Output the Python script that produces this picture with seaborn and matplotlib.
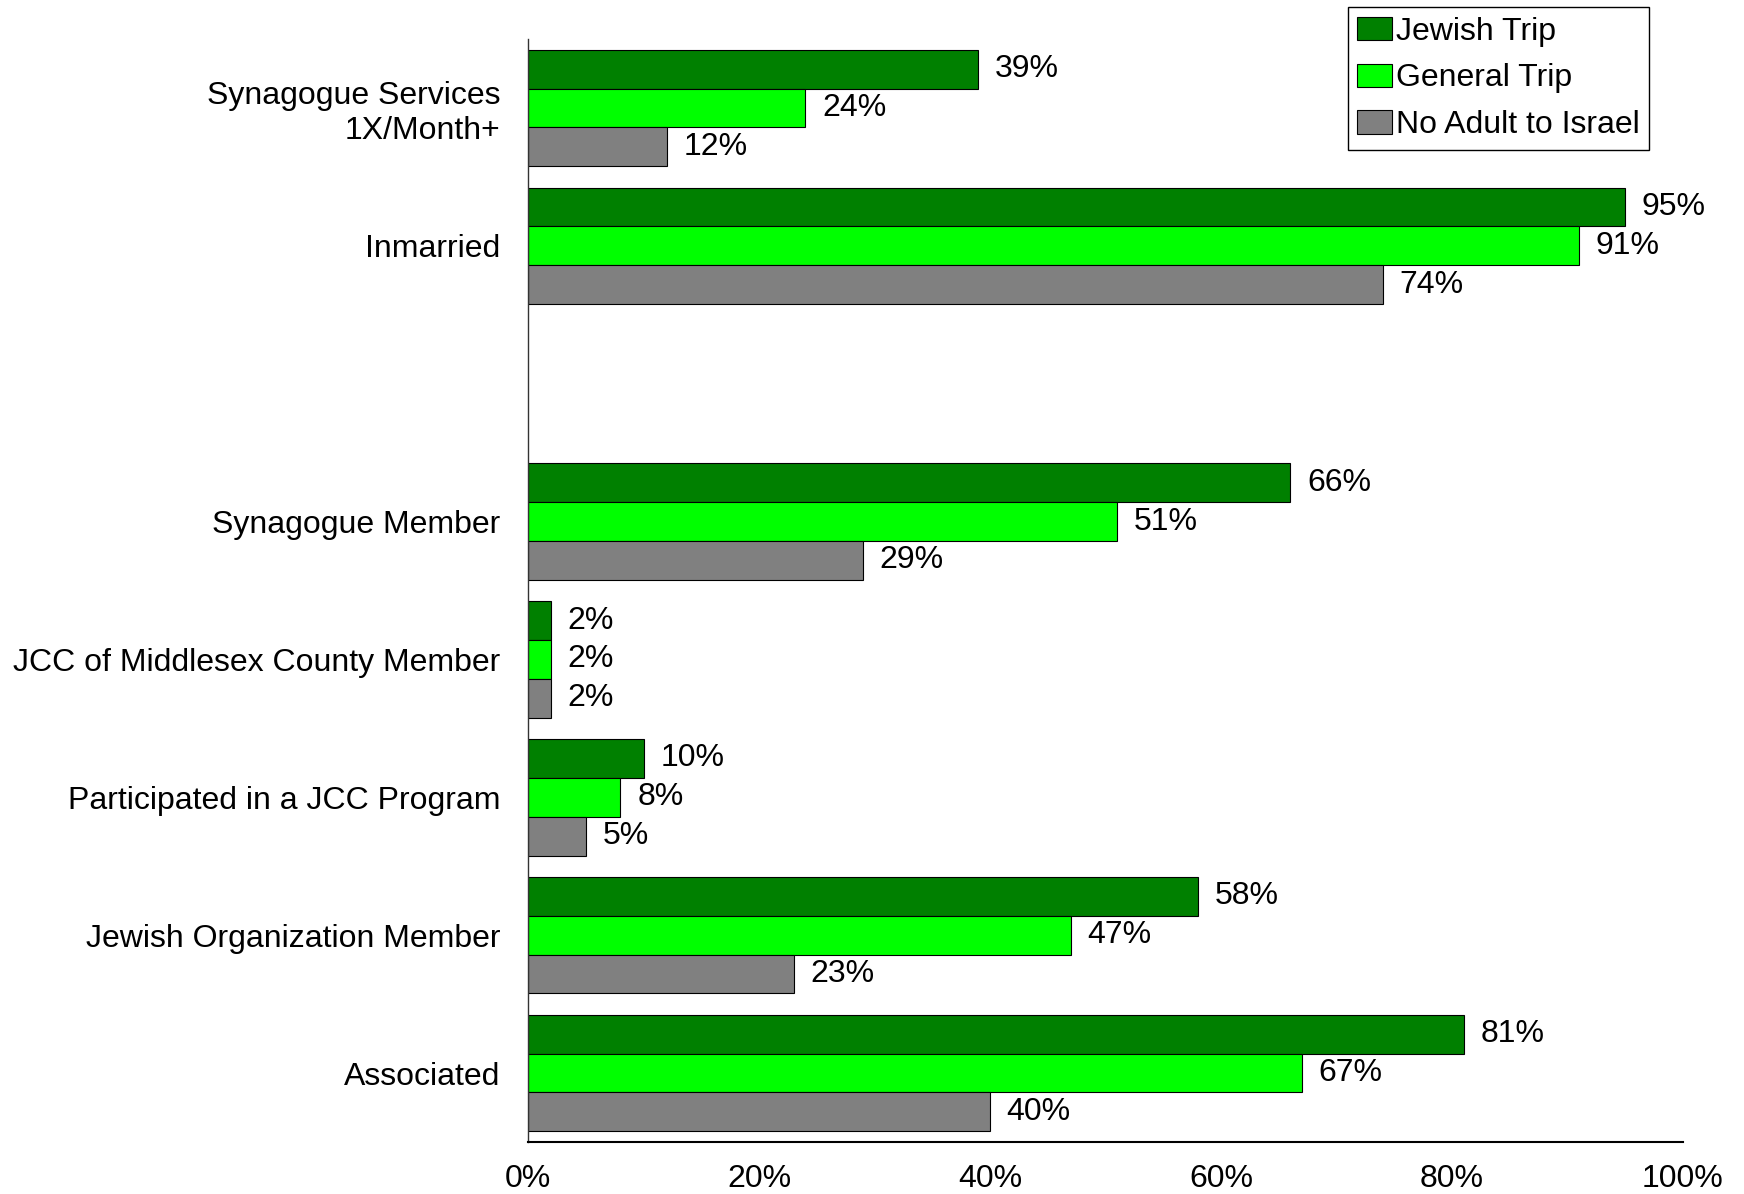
import matplotlib
matplotlib.use('Agg')
import matplotlib.pyplot as plt
import numpy as np
import pandas as pd
import seaborn as sns

# Data (percent)
categories = ['Synagogue Services\n1X/Month+', 'Inmarried', ' ',
              'Synagogue Member', 'JCC of Middlesex County Member',
              'Participated in a JCC Program', 'Jewish Organization Member',
              'Associated']
groups = ['Jewish Trip', 'General Trip', 'No Adult to Israel']
jewish_trip = [39, 95, np.nan, 66, 2, 10, 58, 81]
general_trip = [24, 91, np.nan, 51, 2, 8, 47, 67]
no_adult = [12, 74, np.nan, 29, 2, 5, 23, 40]
colors = ['#008000', '#00ff00', '#808080']

df = pd.DataFrame({
    'category': categories * 3,
    'group': [g for g in groups for _ in categories],
    'value': jewish_trip + general_trip + no_adult,
})

sns.set_style('white')
plt.rcParams['font.family'] = ['Liberation Sans', 'DejaVu Sans']
plt.rcParams['text.color'] = 'black'
plt.rcParams['xtick.color'] = 'black'
plt.rcParams['ytick.color'] = 'black'

FS = 23

fig = plt.figure(figsize=(17.44, 11.94), dpi=100)
ax = fig.add_axes([0.3028, 0.0436, 0.6622, 0.9237])

sns.barplot(data=df, y='category', x='value', hue='group', orient='h',
            order=categories, hue_order=groups, palette=colors,
            saturation=1, width=0.845, edgecolor='black', linewidth=0.8,
            errorbar=None, ax=ax)

for cont in ax.containers:
    ax.bar_label(cont, fmt=lambda v: '' if np.isnan(v) else f'{v:.0f}%',
                 padding=12, fontsize=FS, color='black')

ax.set_xlim(0, 100)
ax.set_ylim(len(categories) - 0.5, -0.5)
ax.set_xticks(range(0, 101, 20))
ax.set_xticklabels([f'{t}%' for t in range(0, 101, 20)])
ax.set_xlabel('')
ax.set_ylabel('')
ax.tick_params(axis='x', length=0, pad=16, labelsize=FS)
ax.tick_params(axis='y', length=0, pad=20, labelsize=FS)

sns.despine(ax=ax)
ax.spines['bottom'].set_linewidth(1.5)
ax.spines['bottom'].set_color('black')
ax.spines['left'].set_linewidth(1.0)
ax.spines['left'].set_color('#333333')

handles, labels = ax.get_legend_handles_labels()
ax.get_legend().remove()
leg = fig.legend(handles, labels, loc='upper right',
                 bbox_to_anchor=(0.9455, 0.994), fontsize=FS,
                 handlelength=1.1, handleheight=0.75, handletextpad=0.1,
                 labelspacing=0.52, borderpad=0.3, borderaxespad=0,
                 fancybox=False, framealpha=1, edgecolor='black')
leg.get_frame().set_linewidth(1.0)

fig.savefig('out.png', dpi=100)
